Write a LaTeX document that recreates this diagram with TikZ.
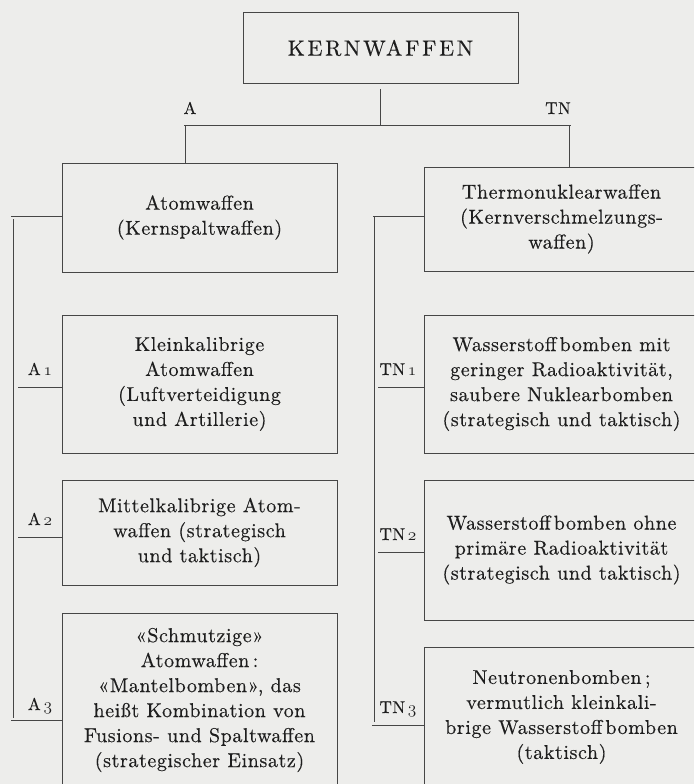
\documentclass[tikz,border=0pt]{standalone}
\usepackage{fontspec}
\newfontfamily\bodyfont{lmroman10-regular.otf}[LetterSpace=3.0,FakeBold=0.35]
\newfontfamily\headfont{lmroman10-regular.otf}[LetterSpace=12.0,FakeBold=0.35]
\newcommand\osfnum[1]{{\fontencoding{OML}\fontfamily{cmm}\fontseries{m}\fontshape{it}\selectfont #1}}
\definecolor{paper}{RGB}{237,237,235}
\definecolor{inkcol}{RGB}{30,30,30}
\definecolor{linecol}{RGB}{70,70,70}
\tikzset{
  ln/.style={draw=linecol, line width=0.8pt},
  box/.style={draw=linecol, line width=0.8pt, minimum width=275pt, inner sep=0pt,
    align=center, text=inkcol, font={\bodyfont\fontsize{20}{25}\selectfont}},
  headbox/.style={draw=linecol, line width=0.8pt, minimum width=275pt, minimum height=71pt,
    inner sep=0pt, text=inkcol, font={\headfont\fontsize{22}{26}\selectfont}},
  lab/.style={inner sep=0pt, anchor=base, text=inkcol, font={\bodyfont\fontsize{17}{19}\selectfont}}
}
\begin{document}
\begin{tikzpicture}[x=1pt,y=-1pt]
\path[use as bounding box] (0,0) rectangle (694,784);
\clip (0,0) rectangle (694,784);
\fill[paper] (0,0) rectangle (694,784);

% boxes
\node[headbox] (kern) at (380.5,48) {KERNWAFFEN};
\node[box, minimum height=109pt] (atom) at (199.5,217.5) {Atomwaffen\\(Kernspaltwaffen)};
\node[box, minimum height=104pt] (thermo) at (561.5,219) {Thermonuklearwaffen\\(Kernverschmelzungs-\\waffen)};
\node[box, minimum height=138pt] (a1) at (199.5,384) {Kleinkalibrige\\Atomwaffen\\(Luftverteidigung\\und Artillerie)};
\node[box, minimum height=105pt] (a2) at (199.5,532.5) {Mittelkalibrige Atom-\\waffen (strategisch\\und taktisch)};
\node[box, minimum height=174pt] (a3) at (199.5,700) {«Schmutzige»\\Atomwaffen\,:\\«Mantelbomben», das\\heißt Kombination von\\Fusions- und Spaltwaffen\\(strategischer Einsatz)};
\node[box, minimum height=138pt] (tn1) at (561.5,384) {Wasserstoff\kern3pt bomben mit\\geringer Radioaktivität,\\saubere Nuklearbomben\\(strategisch und taktisch)};
\node[box, minimum height=140pt] (tn2) at (561.5,550) {Wasserstoff\kern3pt bomben ohne\\primäre Radioaktivität\\(strategisch und taktisch)};
\node[box, minimum height=160pt] (tn3) at (561.5,727) {Neutronenbomben\,;\\vermutlich kleinkali-\\brige Wasserstoff\kern3pt bomben\\(taktisch)\\\mbox{}};

% labels
\node[lab] (la) at (190,114) {A};
\node[lab] (ltn) at (558,114) {TN};
\node[lab] (la1) at (40,375) {A\,\osfnum{1}};
\node[lab] (la2) at (40,525) {A\,\osfnum{2}};
\node[lab] (la3) at (40,710) {A\,\osfnum{3}};
\node[lab] (ltn1) at (398,375) {TN\,\osfnum{1}};
\node[lab] (ltn2) at (398,540) {TN\,\osfnum{2}};
\node[lab] (ltn3) at (398,713) {TN\,\osfnum{3}};

% top connectors
\coordinate (hl) at (184,125);
\coordinate (hr) at (571,125);
\draw[ln] (hl) -- (hr);
\draw[ln] ([yshift=-5pt]kern.south) -- (kern.south |- hl);
\coordinate (sl) at (185,125);
\draw[ln] (sl) -- (sl |- atom.north);
\coordinate (sr) at (569,125);
\draw[ln] (sr) -- (sr |- thermo.north);

% left bracket
\coordinate (lbt) at (11,216);
\draw[ln] (lbt) -- (lbt -| atom.west);
\coordinate (lvt) at (13.5,219);
\coordinate (lvb) at (13.5,718);
\draw[ln] (lvt) -- (lvb);
\coordinate (lbb) at (11,720);
\draw[ln] (lbb) -- (lbb -| a3.west);
\coordinate (lt1) at (18,387);
\draw[ln] (lt1) -- (lt1 -| a1.west);
\coordinate (lt2) at (18,537);
\draw[ln] (lt2) -- (lt2 -| a2.west);

% right bracket
\coordinate (rbt) at (373,216);
\draw[ln] (rbt) -- (rbt -| thermo.west);
\coordinate (rvt) at (374.5,216);
\coordinate (rvb) at (374.5,722);
\draw[ln] (rvt) -- (rvb);
\coordinate (rbb) at (372,725);
\draw[ln] (rbb) -- (rbb -| tn3.west);
\coordinate (rt1) at (378,387);
\draw[ln] (rt1) -- (rt1 -| tn1.west);
\coordinate (rt2) at (378,552);
\draw[ln] (rt2) -- (rt2 -| tn2.west);
\end{tikzpicture}
\end{document}
